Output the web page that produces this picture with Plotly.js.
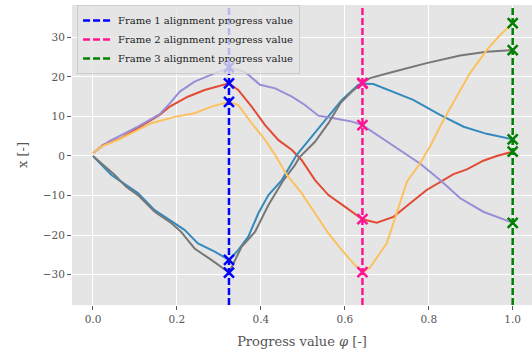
<!DOCTYPE html>
<html>
<head>
<meta charset="utf-8">
<script src="https://cdn.plot.ly/plotly-3.0.1.min.js"></script>
<style>html,body{margin:0;padding:0;overflow:hidden;background:#fff;}</style>
</head>
<body>
<div id="chart" style="width:532px;height:352px;"></div>
<script>
// Series data
const redX = [0, 0.024, 0.067, 0.107, 0.159, 0.183, 0.226, 0.266, 0.324, 0.346, 0.378, 0.41, 0.442, 0.474, 0.497, 0.529, 0.561, 0.60, 0.642, 0.676, 0.716, 0.755, 0.795, 0.835, 0.859, 0.891, 0.930, 0.962, 1.0];
const redY = [0.7, 2.8, 4.5, 7.0, 10.4, 12.5, 15.0, 16.7, 18.4, 16.7, 12.5, 7.8, 4.0, 1.5, -1.0, -6.1, -9.9, -12.8, -16.0, -16.9, -15.4, -12.0, -8.6, -6.1, -4.6, -3.4, -1.2, 0, 1.1];

const blueX = [0, 0.044, 0.067, 0.107, 0.147, 0.195, 0.218, 0.25, 0.29, 0.324, 0.346, 0.37, 0.394, 0.418, 0.45, 0.485, 0.521, 0.553, 0.593, 0.632, 0.642, 0.668, 0.732, 0.763, 0.827, 0.883, 0.938, 1.0];
const blueY = [0, -4.8, -6.5, -9.4, -13.7, -17.0, -18.7, -22.1, -24.2, -26.3, -23.8, -20.4, -14.5, -9.9, -6.1, 0.25, 4.9, 9.1, 14.2, 18.0, 18.3, 18.2, 15.4, 14.2, 10.4, 7.4, 5.6, 4.2];

const purpleX = [0, 0.036, 0.107, 0.159, 0.183, 0.207, 0.242, 0.282, 0.324, 0.362, 0.398, 0.434, 0.474, 0.505, 0.537, 0.577, 0.617, 0.642, 0.70, 0.732, 0.779, 0.827, 0.875, 0.930, 1.0];
const purpleY = [0.7, 3.6, 7.4, 10.6, 13.3, 16.3, 18.8, 20.5, 22.4, 21.3, 18.0, 17.1, 15.0, 12.9, 10.2, 9.5, 8.7, 7.8, 3.6, 1.5, -1.9, -6.1, -10.7, -14.1, -16.9];

const grayX = [0, 0.052, 0.079, 0.107, 0.147, 0.187, 0.21, 0.242, 0.282, 0.324, 0.354, 0.386, 0.418, 0.454, 0.481, 0.493, 0.529, 0.561, 0.589, 0.617, 0.642, 0.66, 0.716, 0.795, 0.875, 0.938, 1.0];
const grayY = [0, -4.8, -7.8, -9.9, -14.1, -17.0, -19.2, -23.4, -26.3, -29.5, -23.0, -19.2, -12.4, -6.1, -2.3, -0.2, 3.6, 8.3, 13.3, 16.3, 18.5, 19.7, 21.3, 23.5, 25.4, 26.4, 26.8];

const yellowX = [0, 0.02, 0.06, 0.099, 0.139, 0.195, 0.242, 0.282, 0.324, 0.346, 0.378, 0.41, 0.434, 0.462, 0.497, 0.529, 0.561, 0.593, 0.624, 0.642, 0.66, 0.70, 0.724, 0.748, 0.779, 0.803, 0.835, 0.867, 0.898, 0.938, 0.970, 1.0];
const yellowY = [0.7, 2.4, 4.1, 6.2, 8.3, 9.9, 10.8, 12.5, 13.7, 12.9, 8.3, 4.1, 0.25, -4.8, -9.4, -14.5, -19.6, -23.8, -27.6, -29.4, -28.2, -22.1, -14.5, -6.5, -1.9, 2.4, 9.1, 15.0, 20.9, 26.8, 30.6, 33.6];

// Frame alignment progress values
const frameNames = ["Frame 1 alignment progress value", "Frame 2 alignment progress value", "Frame 3 alignment progress value"];
const frameX = [0.324, 0.642, 1.0];
// Marker values at each frame: [red, blue, purple, gray, yellow]
const frame1Vals = [18.4, -26.3, 22.4, -29.5, 13.7];
const frame2Vals = [-16.0, 18.3, 7.8, 18.5, -29.4];
const frame3Vals = [1.1, 4.2, -16.9, 26.8, 33.6];

const seriesColors = ["#E24A33", "#348ABD", "#988ED5", "#777777", "#FBC15E"];
const frameColors = ["#0000FF", "#FF1493", "#008000"];

const yRange = [-37.7, 38.2];
const xRange = [-0.05, 1.046];

const series = [[redX, redY], [blueX, blueY], [purpleX, purpleY], [grayX, grayY], [yellowX, yellowY]];
const traces = [];
series.forEach((s, i) => {
  traces.push({x: s[0], y: s[1], mode: 'lines', type: 'scatter', showlegend: false,
    line: {color: seriesColors[i], width: 2}, hoverinfo: 'skip'});
});
frameX.forEach((fx, i) => {
  traces.push({x: [fx, fx], y: yRange, mode: 'lines', type: 'scatter', name: frameNames[i],
    line: {color: frameColors[i], width: 2.5, dash: '7px,3px'}});
});
[frame1Vals, frame2Vals, frame3Vals].forEach((vals, i) => {
  traces.push({x: vals.map(() => frameX[i]), y: vals, mode: 'markers', type: 'scatter', showlegend: false,
    marker: {symbol: 'x-thin-open', size: 10, color: frameColors[i], line: {color: frameColors[i], width: 2.5}}});
});

const tickFont = {family: 'DejaVu Serif, serif', size: 10.5, color: '#555555'};
const layout = {
  width: 532, height: 352,
  margin: {l: 72, r: 0, t: 5, b: 47},
  paper_bgcolor: '#ffffff',
  plot_bgcolor: '#E5E5E5',
  font: {family: 'DejaVu Serif, serif', color: '#555555'},
  xaxis: {
    range: xRange, tickvals: [0, 0.2, 0.4, 0.6, 0.8, 1.0], ticktext: ['0.0', '0.2', '0.4', '0.6', '0.8', '1.0'],
    showgrid: true, gridcolor: '#ffffff', gridwidth: 1, zeroline: false,
    ticks: 'outside', ticklen: 4, tickcolor: '#555555', tickfont: tickFont, showline: false,
    title: {text: 'Progress value <i>φ</i> [-]', font: {family: 'DejaVu Serif, serif', size: 13, color: '#555555'}, standoff: 13}
  },
  yaxis: {
    range: yRange, tickvals: [-30, -20, -10, 0, 10, 20, 30],
    showgrid: true, gridcolor: '#ffffff', gridwidth: 1, zeroline: false,
    ticks: 'outside', ticklen: 4, tickcolor: '#555555', tickfont: tickFont, showline: false,
    title: {text: 'x [-]', font: {family: 'DejaVu Serif, serif', size: 13, color: '#555555'}, standoff: 12}
  },
  legend: {
    x: 0.011, y: 1.0, xanchor: 'left', yanchor: 'top',
    bgcolor: 'rgba(229,229,229,0.8)', bordercolor: '#cccccc', borderwidth: 1,
    font: {family: 'DejaVu Serif, serif', size: 10, color: '#222222'},
    itemwidth: 30, tracegroupgap: 0
  },
  showlegend: true
};
Plotly.newPlot('chart', traces, layout, {displayModeBar: false, staticPlot: true});
</script>
</body>
</html>
